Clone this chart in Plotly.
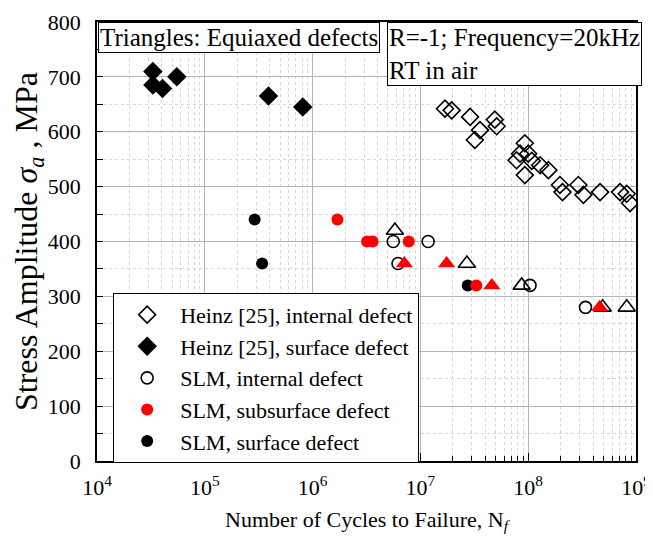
import plotly.graph_objects as go

# ---- data ----
heinz_int_n = [1.69e7, 1.95e7, 2.89e7, 4.9e7, 5.1e7, 3.57e7, 3.2e7, 9.3e7, 8.4e7, 1.0e8, 7.8e7,
               1.08e8, 9.3e7, 1.29e8, 1.54e8, 1.97e8, 2.08e8, 2.92e8, 3.25e8, 4.64e8, 7.1e8, 8.2e8, 8.8e8]
heinz_int_s = [642, 639, 627, 622, 610, 603, 585, 579, 560, 560, 548,
               547, 521, 539, 530, 503, 490, 503, 485, 490, 490, 487, 470]

heinz_surf_n = [3.3e4, 3.3e4, 4.05e4, 5.5e4, 3.9e5, 8.1e5]
heinz_surf_s = [710, 685, 679, 700, 665, 645]

slm_int_n = [5.6e6, 1.18e7, 6.2e6, 1.04e8, 3.4e8]
slm_int_s = [400, 400, 360, 320, 280]

slm_sub_n = [1.7e6, 3.2e6, 3.6e6, 7.8e6, 3.3e7]
slm_sub_s = [440, 400, 400, 400, 320]

slm_surf_n = [2.9e5, 3.4e5, 2.75e7]
slm_surf_s = [440, 360, 320]

tri_int_n = [5.8e6, 2.7e7, 8.7e7, 4.9e8, 8.2e8]
tri_int_s = [420, 360, 320, 280, 280]

tri_sub_n = [7.1e6, 1.75e7, 4.6e7, 4.6e8]
tri_sub_s = [360, 360, 320, 280]

x_tick_vals = [1e4, 1e5, 1e6, 1e7, 1e8, 1e9]
x_tick_text = ["10<sup>4</sup>", "10<sup>5</sup>", "10<sup>6</sup>", "10<sup>7</sup>",
               "10<sup>8</sup>", "10<sup>9</sup>"]

FONT = "Liberation Serif, Times New Roman, serif"

fig = go.Figure()

fig.add_trace(go.Scatter(x=heinz_int_n, y=heinz_int_s, mode="markers",
                         name="Heinz [25], internal defect", legendrank=1,
                         marker=dict(symbol="diamond-open", size=13, color="black",
                                     line=dict(width=1.6, color="black"))))
fig.add_trace(go.Scatter(x=heinz_surf_n, y=heinz_surf_s, mode="markers",
                         name="Heinz [25], surface defect", legendrank=2,
                         marker=dict(symbol="diamond", size=15, color="black")))
fig.add_trace(go.Scatter(x=slm_surf_n, y=slm_surf_s, mode="markers",
                         name="SLM, surface defect", legendrank=5,
                         marker=dict(symbol="circle", size=12, color="black")))
fig.add_trace(go.Scatter(x=slm_int_n, y=slm_int_s, mode="markers",
                         name="SLM, internal defect", legendrank=3,
                         marker=dict(symbol="circle-open", size=12, color="black",
                                     line=dict(width=1.6, color="black"))))
fig.add_trace(go.Scatter(x=tri_int_n, y=tri_int_s, mode="markers",
                         name="SLM internal, equiaxed", showlegend=False,
                         marker=dict(symbol="triangle-up-open", size=15, color="black",
                                     line=dict(width=1.6, color="black"))))
fig.add_trace(go.Scatter(x=slm_sub_n, y=slm_sub_s, mode="markers",
                         name="SLM, subsurface defect", legendrank=4,
                         marker=dict(symbol="circle", size=12, color="red")))
fig.add_trace(go.Scatter(x=tri_sub_n, y=tri_sub_s, mode="markers",
                         name="SLM subsurface, equiaxed", showlegend=False,
                         marker=dict(symbol="triangle-up", size=15, color="red")))

minor_x = [m * 10 ** k for k in range(4, 9) for m in range(2, 10)]

fig.update_xaxes(
    type="log", range=[4, 9], automargin=False,
    tickmode="array", tickvals=x_tick_vals, ticktext=x_tick_text,
    ticks="inside", ticklen=8, tickcolor="black", tickwidth=1.2,
    ticklabelstandoff=6,
    showgrid=True, gridcolor="#b4b4b4", gridwidth=1,
    minor=dict(tickmode="array", tickvals=minor_x, ticks="inside", ticklen=5,
               tickcolor="black", showgrid=True, gridcolor="#d6d6d6", griddash="dot"),
    showline=True, linecolor="black", linewidth=1.5, mirror=True,
    zeroline=False,
    tickfont=dict(family=FONT, size=22, color="black"),
    title=dict(text="Number of Cycles to Failure, N<sub><i>f</i></sub>",
               font=dict(family=FONT, size=22, color="black"), standoff=12),
)
fig.update_yaxes(
    range=[0, 800], dtick=100, tick0=0, automargin=False,
    ticks="inside", ticklen=6, tickcolor="black", tickwidth=1.2,
    ticklabelstandoff=10,
    showgrid=True, gridcolor="#b4b4b4", gridwidth=1,
    minor=dict(dtick=50, ticks="inside", ticklen=6, tickcolor="black",
               showgrid=True, gridcolor="#d6d6d6", griddash="dot"),
    showline=True, linecolor="black", linewidth=1.5, mirror=True,
    zeroline=False,
    tickfont=dict(family=FONT, size=22, color="black"),
    title=dict(text="Stress Amplitude <i>σ<sub>a</sub></i> , MPa",
               font=dict(family=FONT, size=32, color="black"), standoff=0),
)

fig.add_annotation(xref="paper", yref="paper", x=0.002, y=1.0, xanchor="left", yanchor="top",
                   text="Triangles: Equiaxed defects", showarrow=False, align="left",
                   font=dict(family=FONT, size=25, color="black"),
                   bgcolor="white", bordercolor="black", borderwidth=1, borderpad=1)
fig.add_annotation(xref="paper", yref="paper", x=0.538, y=1.0, xanchor="left", yanchor="top",
                   text="R=-1; Frequency=20kHz<br>RT in air", showarrow=False, align="left",
                   font=dict(family=FONT, size=25, color="black"),
                   bgcolor="white", bordercolor="black", borderwidth=1, borderpad=1)

fig.update_layout(
    width=653, height=536,
    margin=dict(l=89, r=25, t=14, b=83),
    paper_bgcolor="white", plot_bgcolor="white",
    font=dict(family=FONT, color="black"),
    legend=dict(x=0.03, y=0.383, xanchor="left", yanchor="top",
                bgcolor="white", bordercolor="black", borderwidth=1,
                font=dict(family=FONT, size=22, color="black"),
                itemwidth=56, tracegroupgap=0),
    showlegend=True,
)

fig.write_html("out.html")
